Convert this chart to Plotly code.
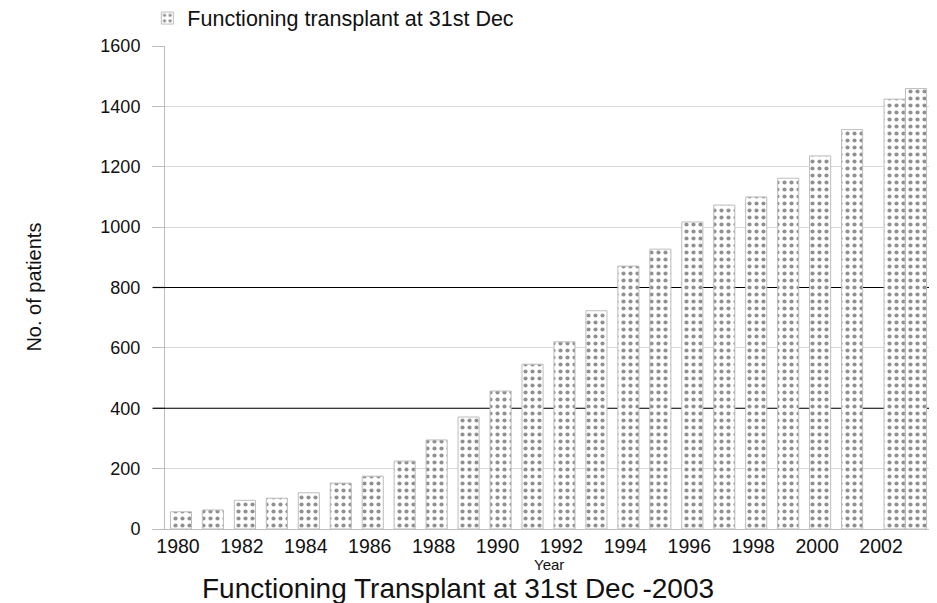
import plotly.graph_objects as go

FONT = "Liberation Sans, Arial, sans-serif"

years = list(range(1980, 2004))
patients = [57, 63, 95, 102, 120, 152, 175, 225, 295, 371, 457, 546,
            620, 723, 871, 927, 1017, 1073, 1100, 1162, 1236, 1323, 1424, 1459]

# the 2002 bar sits half a slot to the right in the original chart
shift_year = 2002
offsets = [0.0 if y == shift_year else -0.33 for y in years]

# gridlines drawn in black instead of light grey
black_lines = [400, 800]

x_range = [years[0] - 0.5, years[-1] + 0.5]

pattern = dict(shape=".", fgcolor="#222222", bgcolor="white", size=7, solidity=0.28)

fig = go.Figure(
    go.Bar(
        x=years,
        y=patients,
        name="Functioning transplant at 31st Dec",
        width=0.66,
        offset=offsets,
        marker=dict(color="white", pattern=pattern, line=dict(color="#bdbdbd", width=1)),
        showlegend=True,
    )
)

for v in black_lines:
    # inside the plot: above the grey grid, under the bars
    fig.add_shape(type="line", xref="x", yref="y", x0=x_range[0], x1=x_range[1], y0=v, y1=v,
                  line=dict(color="black", width=1.2), layer="between")
    # the tick stub left of the axis
    fig.add_shape(type="line", xref="paper", yref="y", x0=-0.016, x1=0, y0=v, y1=v,
                  line=dict(color="black", width=1.2), layer="above")

fig.add_annotation(
    text="Functioning Transplant at 31st Dec -2003",
    xref="paper", yref="paper", x=0.382, y=-0.124, xanchor="center", yanchor="middle",
    showarrow=False, font=dict(size=28, color="#111", family=FONT),
)
fig.add_annotation(
    text="Year",
    xref="paper", yref="paper", x=0.5, y=-0.074, xanchor="center", yanchor="middle",
    showarrow=False, font=dict(size=15, color="#111", family=FONT),
)
fig.add_annotation(
    text="No. of patients", textangle=-90,
    xref="paper", yref="paper", x=-0.172, y=0.5, xanchor="center", yanchor="middle",
    showarrow=False, font=dict(size=20, color="#111", family=FONT),
)

fig.update_layout(
    width=929,
    height=595,
    margin=dict(l=157, r=5, t=38, b=74),
    plot_bgcolor="white",
    paper_bgcolor="white",
    font=dict(family=FONT, color="#111"),
    legend=dict(
        orientation="h", xref="container", yref="container", x=0.150, y=0.983,
        xanchor="left", yanchor="middle", font=dict(size=21.5, family=FONT),
        itemwidth=30,
    ),
)

fig.update_xaxes(
    range=x_range, automargin=False,
    tickmode="linear", tick0=1980, dtick=2,
    showgrid=False, showline=True, linecolor="#bdbdbd", linewidth=1,
    ticks="", tickfont=dict(size=19.5), ticklabelshift=-3,
)

fig.update_yaxes(
    range=[0, 1600], dtick=200, automargin=False,
    showgrid=True, gridcolor="#d9d9d9", gridwidth=1,
    showline=True, linecolor="#bdbdbd", linewidth=1,
    ticks="outside", ticklen=12, tickcolor="#bdbdbd",
    tickfont=dict(size=18), ticklabelstandoff=8,
    zeroline=False,
)

fig.write_html("out.html")
